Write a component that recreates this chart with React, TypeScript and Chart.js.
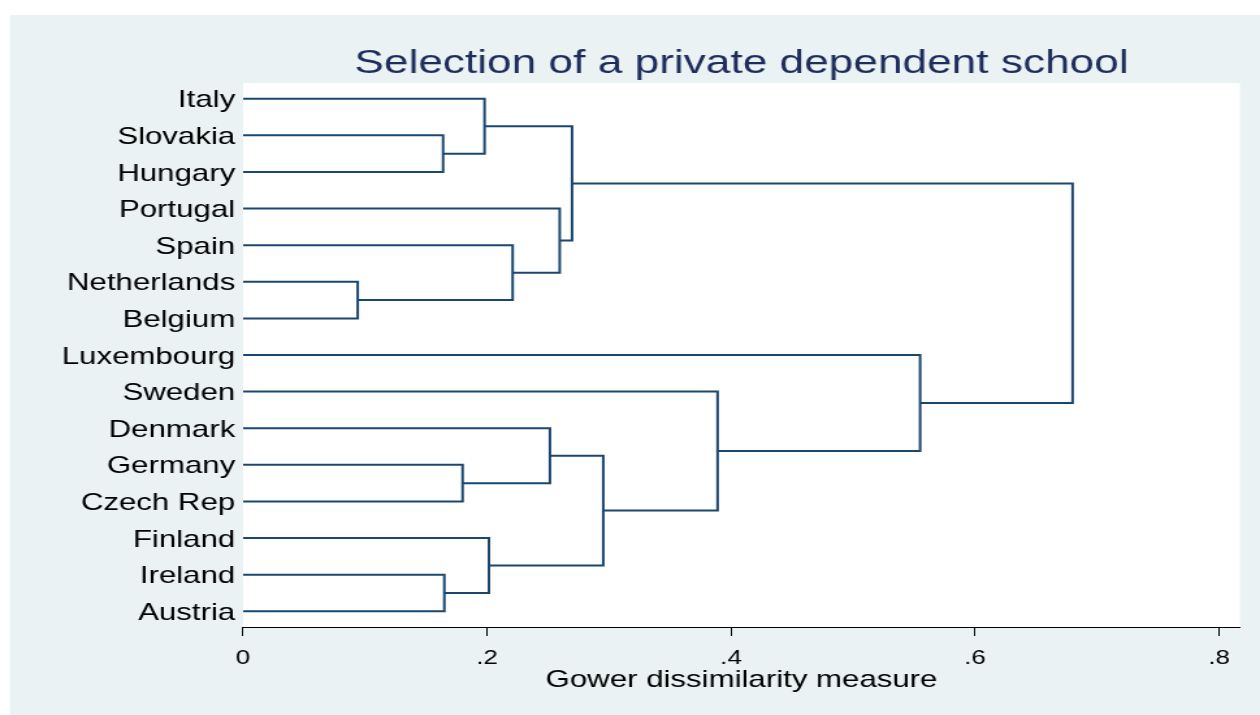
import React, { useEffect, useRef } from "react";
import { Chart, registerables } from "chart.js";

Chart.register(...registerables);

// ---- data ----
const leaves = [
  "Italy",
  "Slovakia",
  "Hungary",
  "Portugal",
  "Spain",
  "Netherlands",
  "Belgium",
  "Luxembourg",
  "Sweden",
  "Denmark",
  "Germany",
  "Czech Rep",
  "Finland",
  "Ireland",
  "Austria",
];
// merge k creates node (leaves.length + k)
const mergeLeft = [5, 1, 13, 10, 0, 12, 4, 9, 3, 19, 22, 8, 7, 24];
const mergeRight = [6, 2, 14, 11, 16, 17, 15, 18, 21, 23, 20, 25, 26, 27];
const mergeHeight = [
  0.094, 0.164, 0.165, 0.18, 0.198, 0.2016, 0.221, 0.2516, 0.2596, 0.2697,
  0.2953, 0.389, 0.555, 0.68,
];
const xTickValues = [0, 0.2, 0.4, 0.6, 0.8];
const xTickLabels = ["0", ".2", ".4", ".6", ".8"];
const chartTitle = "Selection of a private dependent school";
const xAxisTitle = "Gower dissimilarity measure";

// ---- layout constants ----
const OUT_W = 1260;
const OUT_H = 715;
const CANVAS_W = 969;
const SX = OUT_W / CANVAS_W;
const FONT = '"Liberation Sans", Arial, Helvetica, sans-serif';
const LINE_COLOR = "#1a476f";
const BG = "#eaf2f3";

function buildDatasets() {
  const nodeX: number[] = leaves.map(() => 0);
  const nodeY: number[] = leaves.map((_, i) => i);
  return mergeHeight.map((h, k) => {
    const a = mergeLeft[k];
    const b = mergeRight[k];
    const pts = [
      { x: nodeX[a], y: nodeY[a] },
      { x: h, y: nodeY[a] },
      { x: h, y: nodeY[b] },
      { x: nodeX[b], y: nodeY[b] },
    ];
    nodeX.push(h);
    nodeY.push((nodeY[a] + nodeY[b]) / 2);
    return {
      data: pts,
      showLine: true,
      borderColor: LINE_COLOR,
      borderWidth: 2,
      pointRadius: 0,
      borderJoinStyle: "miter" as const,
      borderCapStyle: "butt" as const,
      tension: 0,
      fill: false,
    };
  });
}

const bgPlugin = {
  id: "bgTitle",
  beforeDraw(chart: any) {
    const { ctx, chartArea, width, height } = chart;
    ctx.save();
    ctx.fillStyle = "#ffffff";
    ctx.fillRect(0, 0, width, height);
    ctx.fillStyle = BG;
    ctx.fillRect(10 / SX, 15, width, height);
    ctx.fillStyle = "#ffffff";
    ctx.fillRect(
      chartArea.left,
      chartArea.top,
      chartArea.right - chartArea.left,
      chartArea.bottom - chartArea.top
    );
    ctx.font = `34px ${FONT}`;
    ctx.fillStyle = "#1e2d5b";
    ctx.textAlign = "center";
    ctx.textBaseline = "alphabetic";
    ctx.fillText(chartTitle, (chartArea.left + chartArea.right) / 2, 72.5);
    ctx.restore();
  },
};

export default function App() {
  const ref = useRef<HTMLCanvasElement | null>(null);

  useEffect(() => {
    if (!ref.current) return;
    const plotLeft = 243 / SX;
    const plotRight = 1240 / SX;
    const chart = new Chart(ref.current, {
      type: "scatter",
      data: { datasets: buildDatasets() as any },
      options: {
        animation: false,
        responsive: false,
        devicePixelRatio: 1,
        events: [],
        layout: {
          padding: { top: 83, left: 0, right: CANVAS_W - plotRight, bottom: 0 },
        },
        plugins: {
          legend: { display: false },
          tooltip: { enabled: false },
          title: { display: false },
        },
        scales: {
          x: {
            type: "linear",
            min: 0,
            max: (1240 - 243) / 1220,
            afterBuildTicks: (scale: any) => {
              scale.ticks = xTickValues.map((v) => ({ value: v }));
            },
            afterFit: (scale: any) => {
              scale.height = OUT_H - 627;
            },
            grid: {
              display: true,
              drawOnChartArea: false,
              drawTicks: true,
              tickLength: 9,
              color: "#000000",
              lineWidth: 1,
            },
            border: { display: true, color: "#000000", width: 1 },
            ticks: {
              autoSkip: false,
              maxRotation: 0,
              padding: 10,
              color: "#000000",
              font: { family: FONT, size: 20 },
              callback: (v: any) => {
                const i = xTickValues.indexOf(Number(v));
                return i >= 0 ? xTickLabels[i] : "";
              },
            },
            title: {
              display: true,
              text: xAxisTitle,
              color: "#000000",
              font: { family: FONT, size: 24 },
              padding: { top: 0, bottom: 20.3 },
            },
          },
          y: {
            type: "linear",
            reverse: true,
            min: -0.43,
            max: leaves.length - 1 + 0.43,
            afterBuildTicks: (scale: any) => {
              scale.ticks = leaves.map((_, i) => ({ value: i }));
            },
            afterFit: (scale: any) => {
              scale.width = plotLeft;
            },
            grid: { display: false, drawTicks: false },
            border: { display: false },
            ticks: {
              autoSkip: false,
              padding: 6,
              labelOffset: 2,
              color: "#000000",
              font: { family: FONT, size: 24 },
              callback: (v: any) => leaves[Number(v)] ?? "",
            },
          },
        },
      },
      plugins: [bgPlugin],
    });
    return () => chart.destroy();
  }, []);

  return (
    <div style={{ position: "fixed", left: 0, top: 0, width: OUT_W, height: OUT_H }}>
      <canvas
        ref={ref}
        width={CANVAS_W}
        height={OUT_H}
        style={{ width: `${OUT_W}px`, height: `${OUT_H}px`, display: "block" }}
      />
    </div>
  );
}
